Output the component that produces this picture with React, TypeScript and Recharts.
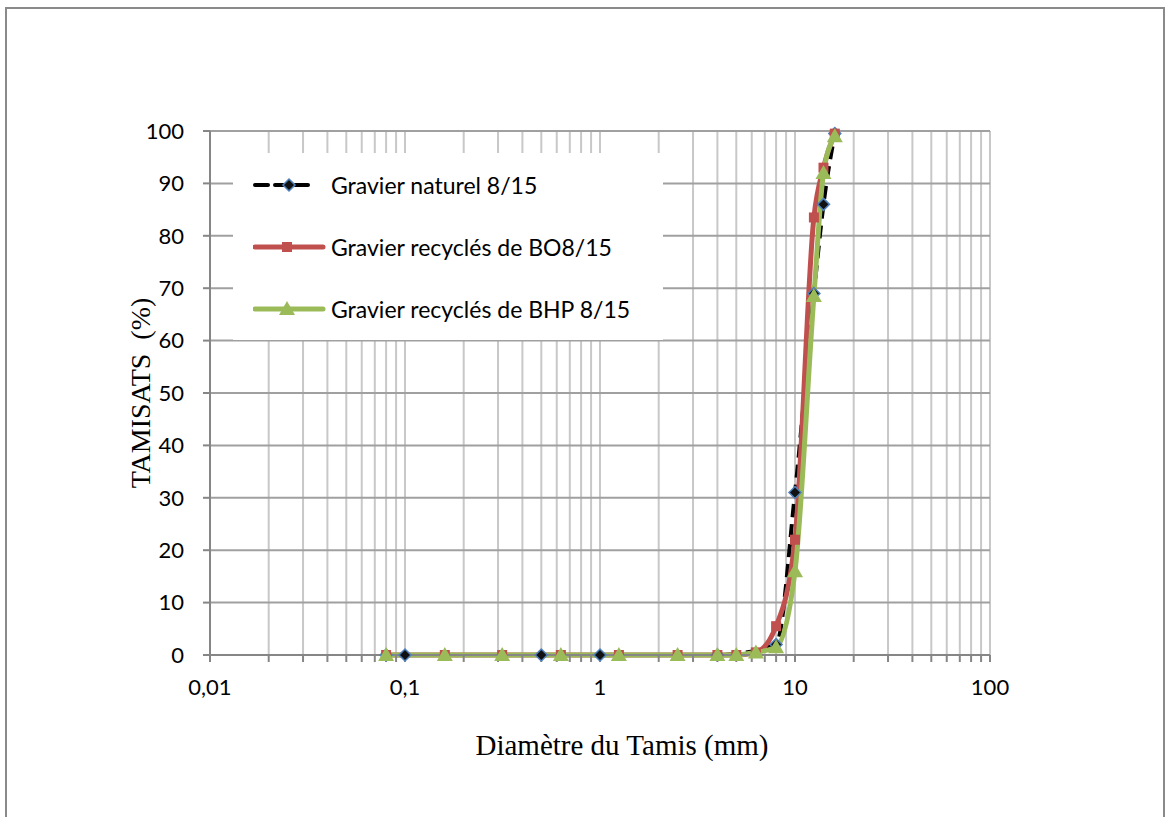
import React from "react";
import { LineChart, Line, XAxis, YAxis, CartesianGrid, Legend } from "recharts";

// sieve openings (mm) and passing percentages
const naturelSizes = [0.08, 0.1, 0.5, 1, 4, 8, 10, 12.5, 14, 16];
const naturelPassing = [0, 0, 0, 0, 0, 2, 31, 69, 86, 99.5];

const recycleSizes = [0.08, 0.16, 0.315, 0.63, 1.25, 2.5, 4, 5, 6.3, 8, 10, 12.5, 14, 16];
const boPassing = [0, 0, 0, 0, 0, 0, 0, 0, 0.5, 5.5, 22, 83.5, 93, 99.5];
const bhpPassing = [0, 0, 0, 0, 0, 0, 0, 0, 0.5, 1.5, 16, 68.5, 92, 99];

const decades = [0.01, 0.1, 1, 10, 100];
const yTicks = [0, 10, 20, 30, 40, 50, 60, 70, 80, 90, 100];

const minorTicks = decades
  .slice(0, -1)
  .flatMap((d) => [1, 2, 3, 4, 5, 6, 7, 8, 9].map((m) => +(m * d).toPrecision(2)))
  .concat([100]);

const toPoints = (sizes: number[], values: number[]) =>
  sizes.map((d, i) => ({ d, p: values[i] }));

const naturel = toPoints(naturelSizes, naturelPassing);
const bo = toPoints(recycleSizes, boPassing);
const bhp = toPoints(recycleSizes, bhpPassing);

const BLACK = "#000000";
const RED = "#c0504d";
const GREEN = "#9bbb59";
const BLUE = "#4f81bd";
const TICK_FONT = "Lato, 'Open Sans', sans-serif";
const SERIF = "'Liberation Serif', 'Times New Roman', serif";

const diamond = (cx: number, cy: number) => (
  <polygon
    points={`${cx},${cy - 6} ${cx + 6},${cy} ${cx},${cy + 6} ${cx - 6},${cy}`}
    fill="#111"
    stroke={BLUE}
    strokeWidth={1.5}
  />
);
const square = (cx: number, cy: number) => (
  <rect x={cx - 5} y={cy - 5} width={10} height={10} fill={RED} />
);
const triangle = (cx: number, cy: number) => (
  <polygon points={`${cx},${cy - 8} ${cx + 8},${cy + 6} ${cx - 8},${cy + 6}`} fill={GREEN} />
);

const makeDot = (shape: (cx: number, cy: number) => React.ReactElement) => (props: any) => {
  const { cx, cy, index } = props;
  if (cx == null || cy == null) return <g key={index} />;
  return <g key={index}>{shape(cx, cy)}</g>;
};

const formatX = (v: number) => (decades.includes(v) ? String(v).replace(".", ",") : "");

const legendItems = [
  { label: "Gravier naturel 8/15", color: BLACK, dash: "13 7", shape: diamond },
  { label: "Gravier recyclés de BO8/15", color: RED, dash: undefined, shape: square },
  { label: "Gravier recyclés de BHP 8/15", color: GREEN, dash: undefined, shape: triangle },
];

const LegendBox = () => (
  <div
    style={{
      width: 430,
      height: 187,
      background: "#fff",
      boxSizing: "border-box",
      paddingTop: 1,
      fontFamily: TICK_FONT,
      fontSize: 23,
      color: "#000",
    }}
  >
    {legendItems.map((it) => (
      <div key={it.label} style={{ height: 62, display: "flex", alignItems: "center" }}>
        <svg width={78} height={22} style={{ marginLeft: 20, flex: "none" }}>
          <line
            x1={2}
            y1={11}
            x2={it.dash ? 62 : 70}
            y2={11}
            stroke={it.color}
            strokeWidth={it.dash ? 4 : 5}
            strokeDasharray={it.dash}
            strokeLinecap="round"
          />
          {it.shape(it.dash ? 36 : 34, 11)}
        </svg>
        <span style={{ whiteSpace: "pre" }}>{it.label}</span>
      </div>
    ))}
  </div>
);

export default function App() {
  return (
    <div
      style={{
        position: "absolute",
        left: 0,
        top: 0,
        width: 1167,
        height: 817,
        overflow: "hidden",
        background: "#fff",
      }}
    >
      <div
        style={{
          position: "absolute",
          left: 5,
          top: 7,
          width: 1160,
          height: 900,
          border: "2px solid #8a8a8a",
          boxSizing: "border-box",
        }}
      />
      <div style={{ position: "absolute", left: 0, top: 0 }}>
        <LineChart
          width={1167}
          height={817}
          margin={{ top: 131, right: 177, left: 0, bottom: 102 }}
        >
          <CartesianGrid horizontal={false} stroke="#c8c8c8" strokeWidth={2} />
          <CartesianGrid vertical={false} stroke="#a0a0a0" strokeWidth={2} />
          <XAxis
            type="number"
            dataKey="d"
            scale="log"
            domain={[0.01, 100]}
            ticks={minorTicks}
            allowDataOverflow
            tickFormatter={formatX}
            interval={0}
            height={60}
            stroke="#868686"
            strokeWidth={2}
            tickSize={7}
            tickMargin={17}
            tick={{ fill: "#000", fontSize: 22, fontFamily: TICK_FONT }}
            label={{
              content: (p: any) => {
                const vb = p.viewBox;
                return (
                  <text
                    x={vb.x + vb.width / 2 + 22}
                    y={vb.y + 100}
                    textAnchor="middle"
                    fontFamily={SERIF}
                    fontSize={29}
                    fill="#000"
                  >
                    Diamètre du Tamis (mm)
                  </text>
                );
              },
            }}
          />
          <YAxis
            type="number"
            domain={[0, 100]}
            ticks={yTicks}
            interval={0}
            width={210}
            stroke="#868686"
            strokeWidth={2}
            tickSize={7}
            tickMargin={19}
            tick={{ fill: "#000", fontSize: 22, fontFamily: TICK_FONT }}
            label={{
              content: (p: any) => {
                const vb = p.viewBox;
                const x = vb.x + vb.width - 60;
                const y = vb.y + vb.height / 2;
                return (
                  <text
                    x={x}
                    y={y}
                    transform={`rotate(-90, ${x}, ${y})`}
                    textAnchor="middle"
                    fontFamily={SERIF}
                    fontSize={28}
                    fill="#000"
                    style={{ whiteSpace: "pre" }}
                  >
                    TAMISATS  (%)
                  </text>
                );
              },
            }}
          />
          <Legend
            verticalAlign="middle"
            align="center"
            layout="horizontal"
            content={() => <LegendBox />}
            wrapperStyle={{ left: 233, top: 153, width: 430, height: 187 }}
          />
          <Line
            data={naturel}
            dataKey="p"
            type="monotone"
            stroke={BLACK}
            strokeWidth={4}
            strokeDasharray="13 7"
            dot={makeDot(diamond)}
            activeDot={false}
            isAnimationActive={false}
          />
          <Line
            data={bo}
            dataKey="p"
            type="monotone"
            stroke={RED}
            strokeWidth={5}
            dot={makeDot(square)}
            activeDot={false}
            isAnimationActive={false}
          />
          <Line
            data={bhp}
            dataKey="p"
            type="monotone"
            stroke={GREEN}
            strokeWidth={5}
            dot={makeDot(triangle)}
            activeDot={false}
            isAnimationActive={false}
          />
        </LineChart>
      </div>
    </div>
  );
}
